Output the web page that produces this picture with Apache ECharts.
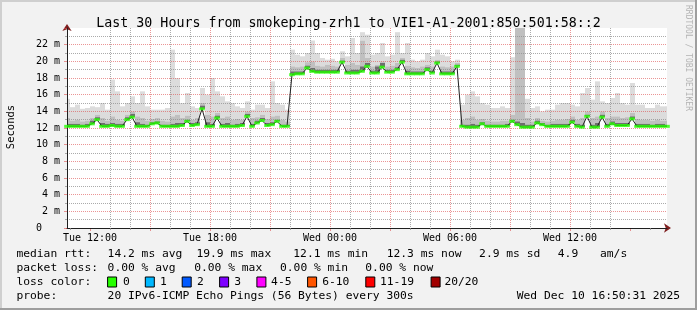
<!DOCTYPE html>
<html><head><meta charset="utf-8">
<script src="https://cdn.jsdelivr.net/npm/echarts@6/dist/echarts.min.js"></script>
<style>html,body{margin:0;padding:0;background:#f2f2f2}#c{width:697px;height:310px}</style>
</head><body><div id="c"></div>
<script>
// ---- data (minutes since Tue 00:00) ----
const startMin = 651;   // Tue 10:51
const endMin = 2451;    // Wed 16:51
const stepMin = 15;

const median = [
 12.2,12.2,12.2,12.2,12.2,12.5,13.0,12.2,12.2,12.3,
 12.2,12.2,13.0,13.3,12.2,12.2,12.2,12.5,12.6,12.2,
 12.2,12.2,12.2,12.3,12.8,12.3,12.4,14.3,12.2,12.2,
 13.2,12.2,12.2,12.2,12.2,12.3,13.4,12.2,12.6,12.9,
 12.3,12.4,12.8,12.2,12.2,18.4,18.5,18.5,19.2,18.8,
 18.7,18.7,18.7,18.7,18.7,19.9,18.6,18.6,18.6,18.8,
 19.4,18.6,18.6,19.3,18.7,18.7,19.0,19.9,18.5,18.5,
 18.5,18.5,19.0,18.6,19.8,18.5,18.5,18.5,19.4,12.2,
 12.1,12.1,12.1,12.5,12.2,12.2,12.2,12.2,12.2,12.8,
 12.4,12.1,12.1,12.1,12.6,12.4,12.2,12.2,12.2,12.2,
 12.2,12.7,12.2,12.1,13.4,12.1,12.1,13.3,12.2,12.5,
 12.3,12.3,12.3,13.1,12.2,12.2,12.2,12.2,12.2,12.2,
 12.2
];
const smokeInner = [
 12.5,12.5,12.5,12.4,12.5,12.9,13.3,12.6,12.5,12.6,
 12.5,12.5,13.3,13.7,12.7,12.5,12.4,12.7,12.8,12.4,
 12.4,12.5,12.6,12.6,13.0,12.6,12.7,14.7,12.7,12.5,
 13.5,12.5,12.6,12.4,12.5,12.6,13.7,12.5,12.9,13.2,
 12.6,12.7,13.0,12.4,12.4,18.8,18.8,18.8,19.5,19.2,
 19.0,19.0,19.0,19.0,19.0,20.1,18.9,19.0,19.0,19.4,
 19.8,18.9,19.4,19.8,19.0,19.0,19.3,20.2,18.9,18.8,
 18.8,18.8,19.3,18.9,20.0,18.8,18.8,18.8,19.6,12.4,
 12.4,12.5,12.4,12.7,12.4,12.4,12.4,12.4,12.5,13.0,
 12.8,12.6,12.4,12.4,12.9,12.6,12.4,12.5,12.5,12.5,
 12.5,13.0,12.5,12.4,13.6,12.4,12.6,13.6,12.5,12.8,
 12.6,12.6,12.6,13.4,12.5,12.5,12.5,12.4,12.5,12.5,
 12.4
];
const smokeMid = [
 13.2,12.9,13.0,12.8,12.9,13.2,13.6,13.2,12.9,13.4,
 13.0,12.9,13.6,14.0,13.4,13.2,12.9,13.1,13.2,12.9,
 12.8,13.4,13.6,13.2,13.5,13.0,13.2,15.0,13.6,13.4,
 13.8,13.2,13.4,13.0,13.1,13.0,14.0,13.2,13.3,13.6,
 13.1,13.4,13.5,13.0,12.8,19.4,19.3,19.4,19.9,20.0,
 19.5,19.4,19.6,19.5,19.4,20.4,19.6,19.8,19.6,22.5,
 20.4,19.4,19.6,20.0,19.4,19.5,19.8,20.4,19.5,19.3,
 19.2,19.4,19.6,19.4,20.2,19.4,19.3,19.4,19.8,13.0,
 13.2,13.4,13.0,13.1,12.9,12.8,12.8,12.9,12.9,13.6,
 24.0,24.0,13.2,12.8,13.2,12.9,12.8,12.9,13.0,13.0,
 13.1,13.4,13.0,13.2,14.0,13.2,13.4,14.0,13.2,13.4,
 13.4,13.2,13.3,13.8,13.1,13.0,13.0,12.9,13.0,12.9,
 12.9
];
const smokeMax = [
 15.5,14.5,14.8,14.3,14.4,14.6,14.5,15.0,14.2,17.8,
 16.4,14.6,15.0,15.8,15.0,16.4,14.6,14.2,14.2,14.2,
 14.4,21.4,18.0,15.0,16.2,14.6,14.4,16.8,16.0,18.0,
 16.4,15.8,15.2,15.0,14.6,14.4,15.2,14.2,14.8,14.8,
 14.4,17.6,15.0,14.8,14.2,21.4,20.8,20.6,21.0,22.5,
 21.0,20.4,20.2,20.3,20.0,21.2,20.6,22.8,21.0,23.5,
 23.2,20.8,21.0,22.2,20.6,20.8,23.5,21.0,22.2,20.2,
 20.0,20.2,21.0,20.6,21.4,20.8,20.6,20.0,20.2,14.8,
 16.0,16.4,15.8,15.0,14.8,14.4,14.4,14.6,14.4,20.5,
 24.0,24.0,15.5,14.4,14.6,14.0,14.2,14.2,14.8,15.0,
 15.0,14.8,14.6,16.2,16.8,15.4,17.6,15.2,15.0,15.6,
 16.2,15.0,14.8,17.4,14.8,14.8,14.4,14.4,14.8,14.6,
 14.6
];

const xLabelValues = [720, 1080, 1440, 1800, 2160];
const xLabelTexts = ['Tue 12:00', 'Tue 18:00', 'Wed 00:00', 'Wed 06:00', 'Wed 12:00'];

const legendRtt = [['median rtt:', 16.4], ['14.2 ms avg', 107.6], ['19.9 ms max', 196.4], ['12.1 ms min', 293.3],
  ['12.3 ms now', 386.7], ['2.9 ms sd', 479.1], ['4.9', 557.8], ['am/s', 600]];
const legendLoss = [['packet loss:', 16.4], ['0.00 % avg', 107.6], ['0.00 % max', 194.2], ['0.00 % min', 280], ['0.00 % now', 365.3]];
const lossLabels = ['0', '1', '2', '3', '4-5', '6-10', '11-19', '20/20'];
const lossColors = ['#26ff00', '#00b8ff', '#0059ff', '#7e00ff', '#ff00ff', '#ff5500', '#ff0000', '#a10000'];
const lossBoxX = [107.6, 145.3, 182.2, 219.6, 256.9, 307.6, 365.8, 431.1];
const lossLabelX = [123, 160, 197, 234.2, 271.1, 322.2, 380, 444.4];

// ---- build ----
const times = median.map((_, i) => startMin + i * stepMin);
const t2 = median.map((m, i) => Math.max(smokeInner[i], m));
const t3 = t2.map((v, i) => Math.max(smokeMid[i], v));
const t4 = t3.map((v, i) => Math.max(smokeMax[i], v));
const zip = arr => arr.map((v, i) => [times[i], v]);
const band = (lo, hi) => lo.map((v, i) => [times[i], v, hi[i]]);

const minorHours = [], majorHours = [];
for (let m = 660; m < endMin; m += 60) { if (m % 180 === 0) majorHours.push(m); else minorHours.push(m); }

const FONT = 'DejaVu Sans Mono';
const GRID = 'rgba(143,143,143,0.75)';
const MGRID = 'rgba(222,79,79,0.6)';

function txt(text, x, y, size, align, extra) {
  return Object.assign({ type: 'text', x: x, y: y, silent: true,
    style: { text: text, font: size + 'px "' + FONT + '"', fill: '#000', align: align || 'left', verticalAlign: 'middle',
      textAlign: align || 'left', textVerticalAlign: 'middle' } }, extra || {});
}

const graphics = [];
graphics.push({ type: 'rect', shape: { x: 0, y: 0, width: 697, height: 2 }, style: { fill: '#cfcfcf' }, silent: true });
graphics.push({ type: 'rect', shape: { x: 0, y: 0, width: 2, height: 310 }, style: { fill: '#cfcfcf' }, silent: true });
graphics.push({ type: 'rect', shape: { x: 695, y: 0, width: 2, height: 310 }, style: { fill: '#9e9e9e' }, silent: true });
graphics.push({ type: 'rect', shape: { x: 0, y: 308, width: 697, height: 2 }, style: { fill: '#9e9e9e' }, silent: true });
graphics.push(txt('Seconds', 11, 127, 10.5, 'center', { rotation: Math.PI / 2 }));
const rrdNote = txt('RRDTOOL / TOBI OETIKER', 688, 5, 8, 'left', { rotation: -Math.PI / 2 });
rrdNote.style.fill = '#b4b4b4';
graphics.push(rrdNote);
legendRtt.forEach(([s, x]) => graphics.push(txt(s, x, 254, 11.3)));
legendLoss.forEach(([s, x]) => graphics.push(txt(s, x, 268, 11.3)));
graphics.push(txt('loss color:', 16.4, 282, 11.3));
lossLabels.forEach((s, k) => {
  graphics.push({ type: 'rect', shape: { x: lossBoxX[k], y: 277, width: 9, height: 10 },
    style: { fill: lossColors[k], stroke: '#000', lineWidth: 1 }, silent: true });
  graphics.push(txt(s, lossLabelX[k], 282, 11.3));
});
graphics.push(txt('probe:', 16.4, 296, 11.3));
graphics.push(txt('20 IPv6-ICMP Echo Pings (56 Bytes) every 300s', 107.6, 296, 11.3));
graphics.push(txt('Wed Dec 10 16:50:31 2025', 680, 296, 11.3, 'right'));

function smokeSeries(name, data, color) {
  return {
    type: 'custom', name: name, data: data, silent: true, z: 2, clip: true,
    encode: { x: 0, y: [1, 2] },
    renderItem: function (params, api) {
      const t = api.value(0), lo = api.value(1), hi = api.value(2);
      if (!(hi > lo)) return null;
      const a = api.coord([t - stepMin / 2, hi]);
      const b = api.coord([t + stepMin / 2, lo]);
      const x0 = Math.round(a[0]), x1 = Math.round(b[0]);
      return { type: 'rect', shape: { x: x0, y: a[1], width: x1 - x0, height: b[1] - a[1] },
        style: { fill: color } };
    }
  };
}

const option = {
  animation: false,
  backgroundColor: '#f2f2f2',
  title: { text: 'Last 30 Hours from smokeping-zrh1 to VIE1-A1-2001:850:501:58::2', left: 'center', top: 12,
    textStyle: { fontFamily: FONT, fontSize: 13.3, fontWeight: 'normal', color: '#000' } },
  grid: { left: 67, right: 30, top: 28, bottom: 82, show: true, backgroundColor: '#ffffff', borderWidth: 0 },
  xAxis: [
    { type: 'value', min: startMin, max: endMin, position: 'bottom', z: 4,
      axisLine: { show: true, onZero: false, lineStyle: { color: '#1f1f1f', width: 1 } },
      axisTick: { show: true, length: 2, customValues: minorHours, lineStyle: { color: GRID } },
      axisLabel: { show: false },
      splitLine: { show: true, showMinLine: false, showMaxLine: false, lineStyle: { color: GRID, type: [1, 1], width: 1 } } },
    { type: 'value', min: startMin, max: endMin, position: 'bottom', z: 3,
      axisLine: { show: true, onZero: false, symbol: ['none', 'arrow'], symbolSize: [7, 7], symbolOffset: [0, 4],
        lineStyle: { color: '#7f1f1f', width: 1 } },
      axisTick: { show: true, length: 3, customValues: majorHours, lineStyle: { color: MGRID } },
      axisLabel: { show: true, customValues: xLabelValues, margin: 5, color: '#000', fontFamily: FONT, fontSize: 10,
        formatter: v => { const k = xLabelValues.indexOf(v); return k >= 0 ? xLabelTexts[k] : ''; } },
      splitLine: { show: true, showMinLine: false, showMaxLine: false, lineStyle: { color: MGRID, type: [1, 1], width: 1 } } }
  ],
  yAxis: [
    { type: 'value', min: 0, max: 24, interval: 2, position: 'left', z: 4,
      axisLine: { show: true, onZero: false, lineStyle: { color: '#1f1f1f', width: 1 } },
      axisTick: { show: true, length: 3, lineStyle: { color: MGRID } },
      minorTick: { show: true, splitNumber: 2, length: 2, lineStyle: { color: GRID } },
      axisLabel: { show: true, margin: 7, color: '#000', fontFamily: FONT, fontSize: 10, showMaxLabel: false,
        formatter: v => v === 0 ? '0   ' : (v >= 24 ? '' : v + ' m') },
      splitLine: { show: true, showMinLine: false, showMaxLine: false, lineStyle: { color: MGRID, type: [1, 1], width: 1 } },
      minorSplitLine: { show: true, lineStyle: { color: GRID, type: [1, 1], width: 1 } } },
    { type: 'value', min: 0, max: 24, interval: 2, position: 'left', z: 3,
      axisLine: { show: true, onZero: false, symbol: ['none', 'arrow'], symbolSize: [7, 7], symbolOffset: [0, 4],
        lineStyle: { color: '#7f1f1f', width: 1 } },
      axisTick: { show: false }, axisLabel: { show: false }, splitLine: { show: false } }
  ],
  series: [
    smokeSeries('outer', band(t3, t4), '#dcdcdc'),
    smokeSeries('mid', band(t2, t3), '#c0c0c0'),
    smokeSeries('inner', band(median, t2), '#6e6e6e'),
    { type: 'line', name: 'median', data: zip(median), symbol: 'none', silent: true, z: 6,
      lineStyle: { color: '#202020', width: 1 } },
    { type: 'scatter', name: 'loss0', data: zip(median), symbol: 'rect', symbolSize: [5.6, 3], silent: true, z: 7,
      itemStyle: { color: lossColors[0] } }
  ],
  graphic: graphics
};
const chart = echarts.init(document.getElementById('c'), null, { width: 697, height: 310 });
chart.setOption(option);
</script>
</body></html>
